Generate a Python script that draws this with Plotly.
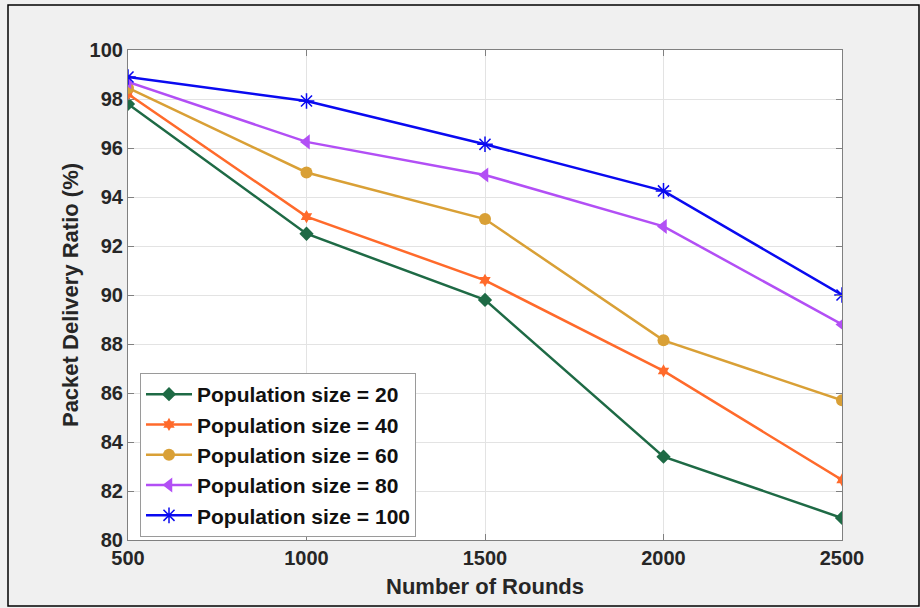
import plotly.graph_objects as go

rounds = [500, 1000, 1500, 2000, 2500]
pdr_20 = [97.8, 92.5, 89.8, 83.4, 80.9]
pdr_40 = [98.2, 93.2, 90.6, 86.9, 82.45]
pdr_60 = [98.45, 95.0, 93.1, 88.15, 85.7]
pdr_80 = [98.7, 96.25, 94.9, 92.8, 88.8]
pdr_100 = [98.9, 97.92, 96.15, 94.25, 90.0]

series_names = ["Population size = 20", "Population size = 40", "Population size = 60",
                "Population size = 80", "Population size = 100"]
series_values = [pdr_20, pdr_40, pdr_60, pdr_80, pdr_100]
colors = ["#1e6a45", "#ff6a2b", "#d9a036", "#b24ff5", "#0a0af0"]
symbols = ["diamond", "hexagram", "circle", "triangle-left", "asterisk-open"]
sizes = [11, 10, 12, 13, 13]

W, H = 920, 608
L, R, T, B = 128, 842, 50, 540
FONT = "Liberation Sans, Arial"

fig = go.Figure()
for name, vals, col, sym, sz in zip(series_names, series_values, colors, symbols, sizes):
    marker = dict(symbol=sym, size=sz, color=col)
    if sym == "asterisk-open":
        marker["line"] = dict(color=col, width=1.5)
    fig.add_trace(go.Scatter(
        x=rounds, y=vals, mode="lines+markers", name=name,
        line=dict(color=col, width=2.5), marker=marker,
    ))

axis_common = dict(
    showgrid=True, gridcolor="#e3e3e3", gridwidth=1,
    showline=True, linecolor="#808080", linewidth=1.2, mirror="ticks",
    ticks="inside", ticklen=6, tickcolor="#808080",
    tickfont=dict(family=FONT, size=20, color="#262626", weight="bold"),
    zeroline=False,
)

fig.update_layout(
    width=W, height=H,
    margin=dict(l=L, r=W - R, t=T, b=H - B),
    paper_bgcolor="#f0f0f0", plot_bgcolor="white",
    xaxis=dict(range=[500, 2500], tickvals=rounds, **axis_common,
               title=dict(text="Number of Rounds", standoff=10,
                          font=dict(family=FONT, size=22, color="#262626", weight="bold"))),
    yaxis=dict(range=[80, 100], dtick=2, **axis_common,
               title=dict(text="Packet Delivery Ratio (%)", standoff=4,
                          font=dict(family=FONT, size=22, color="#262626", weight="bold"))),
    legend=dict(
        x=(140 - L) / (R - L), y=(B - 373) / (B - T), xanchor="left", yanchor="top",
        bgcolor="white", bordercolor="#9a9a9a", borderwidth=1,
        font=dict(family=FONT, size=21, color="#111111", weight="bold"),
        tracegroupgap=0, itemwidth=46,
    ),
    showlegend=True,
)

# outer figure frame
def px_x(p):
    return (p - L) / (R - L)

def px_y(p):
    return (B - p) / (B - T)

fig.add_shape(type="rect", xref="paper", yref="paper",
              x0=px_x(8), x1=px_x(919), y0=px_y(606), y1=px_y(5),
              line=dict(color="black", width=1.5), fillcolor="rgba(0,0,0,0)", layer="below")

fig.write_html("out.html")
